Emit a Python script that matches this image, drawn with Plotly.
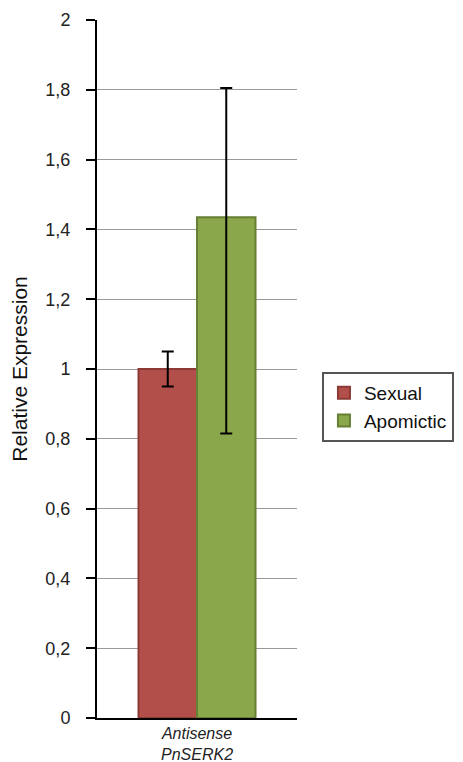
import plotly.graph_objects as go

categories = ["<i>Antisense</i><br><i>PnSERK2</i>"]
series_names = ["Sexual", "Apomictic"]
sexual_values = [1.0]
sexual_err_plus = [0.05]
sexual_err_minus = [0.05]
apomictic_values = [1.435]
apomictic_err_plus = [0.37]
apomictic_err_minus = [0.62]
y_ticks = [0, 0.2, 0.4, 0.6, 0.8, 1.0, 1.2, 1.4, 1.6, 1.8, 2.0]

fig = go.Figure()
fig.add_trace(go.Bar(
    x=categories, y=sexual_values, name=series_names[0],
    marker=dict(color="#b24f4b", line=dict(color="#8c3a36", width=2)),
    error_y=dict(type="data", symmetric=False, array=sexual_err_plus,
                 arrayminus=sexual_err_minus, color="black", thickness=2, width=6),
))
fig.add_trace(go.Bar(
    x=categories, y=apomictic_values, name=series_names[1],
    marker=dict(color="#8aa84b", line=dict(color="#667f33", width=2)),
    error_y=dict(type="data", symmetric=False, array=apomictic_err_plus,
                 arrayminus=apomictic_err_minus, color="black", thickness=2, width=6),
))

# page body has an 8px margin, so the figure is 8px smaller and offsets compensated
fig.update_layout(
    width=455, height=754,
    margin=dict(l=89, r=166, t=12, b=44, autoexpand=False),
    paper_bgcolor="white", plot_bgcolor="white",
    barmode="group", bargap=0.415, bargroupgap=0,
    separators=",.",
    font=dict(family="Liberation Sans, Arial, sans-serif", color="#222"),
    showlegend=True,
    legend=dict(
        xref="container", yref="container",
        x=0.690, y=0.4708, xanchor="left", yanchor="middle",
        bordercolor="#555", borderwidth=2, bgcolor="white",
        font=dict(size=19, color="#111"),
        itemwidth=30,
    ),
)
fig.update_yaxes(
    range=[0, 2], tickvals=y_ticks, tickformat="~r",
    showgrid=True, gridcolor="#999", gridwidth=1,
    showline=True, linecolor="black", linewidth=2,
    ticks="outside", ticklen=9, tickcolor="black", tickwidth=2,
    ticklabelstandoff=12,
    tickfont=dict(size=18, color="#222"),
    title=dict(text="Relative Expression", font=dict(size=21, color="#111"), standoff=14),
    zeroline=False, automargin=False,
)
fig.update_xaxes(
    showline=True, linecolor="black", linewidth=2,
    tickfont=dict(size=16, color="#222"),
    ticks="", automargin=False,
)

fig.write_html("out.html")
